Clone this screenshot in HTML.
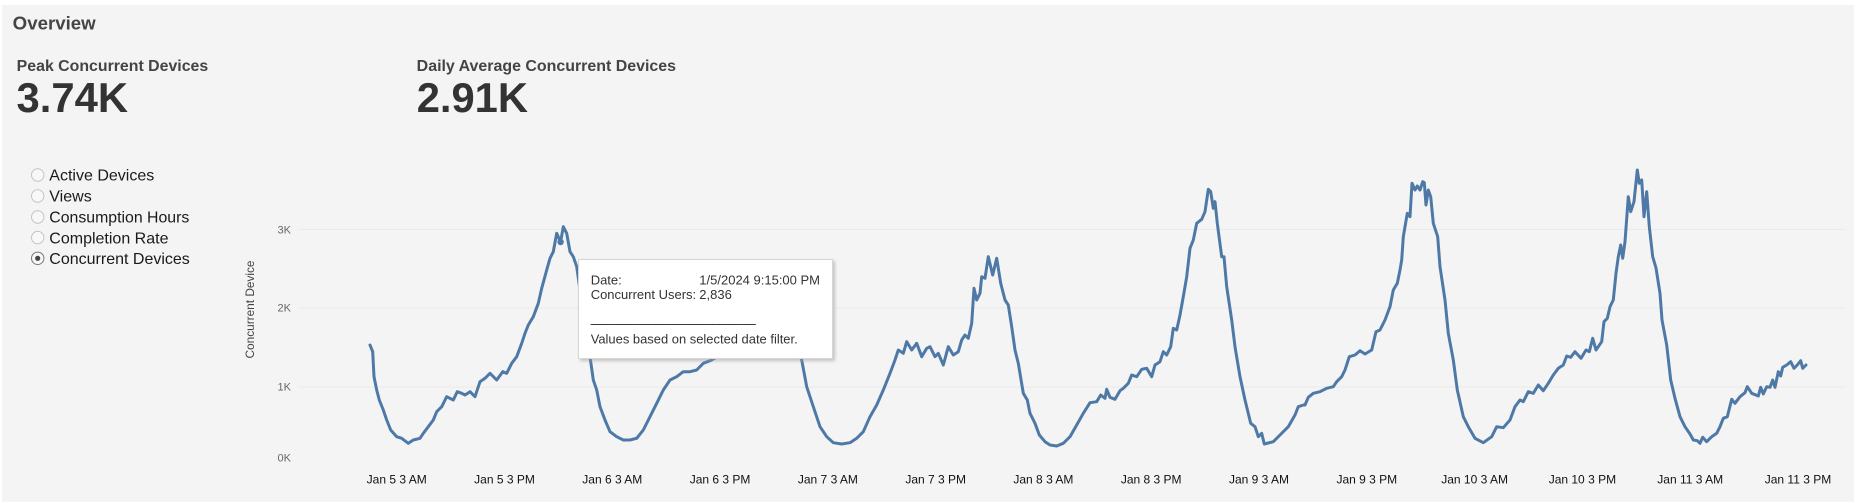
<!DOCTYPE html>
<html>
<head>
<meta charset="utf-8">
<style>
  html,body{margin:0;padding:0;background:#ffffff;}
  body{width:1854px;height:502px;overflow:hidden;}
  svg{display:block;}
  text{font-family:"Liberation Sans",Arial,sans-serif;}
</style>
</head>
<body>
<svg width="1854" height="502" viewBox="0 0 1854 502" xmlns="http://www.w3.org/2000/svg">
  <defs>
    <filter id="sh" x="-10%" y="-10%" width="130%" height="140%">
      <feGaussianBlur stdDeviation="1.5"/>
    </filter>
  </defs>
  <rect x="0" y="0" width="1854" height="502" fill="#ffffff"/>
  <rect x="2" y="5" width="1852" height="497" fill="#f4f4f4"/>

  <!-- Header -->
  <text x="12.7" y="29.3" font-size="18" font-weight="bold" fill="#444" textLength="83" lengthAdjust="spacingAndGlyphs">Overview</text>
  <text x="16.7" y="71" font-size="15.8" font-weight="bold" fill="#444" textLength="191.5" lengthAdjust="spacingAndGlyphs">Peak Concurrent Devices</text>
  <text x="16.5" y="112" font-size="42" font-weight="bold" fill="#333" textLength="111.5" lengthAdjust="spacingAndGlyphs">3.74K</text>
  <text x="416.7" y="71" font-size="15.8" font-weight="bold" fill="#444" textLength="259.3" lengthAdjust="spacingAndGlyphs">Daily Average Concurrent Devices</text>
  <text x="416.7" y="112" font-size="42" font-weight="bold" fill="#333" textLength="111.3" lengthAdjust="spacingAndGlyphs">2.91K</text>

  <!-- Radio list -->
  <g>
    <circle cx="37.7" cy="175" r="6.2" fill="#f8f8f8" stroke="#c4c4c4" stroke-width="1"/>
    <circle cx="37.7" cy="196" r="6.2" fill="#f8f8f8" stroke="#c4c4c4" stroke-width="1"/>
    <circle cx="37.7" cy="217" r="6.2" fill="#f8f8f8" stroke="#c4c4c4" stroke-width="1"/>
    <circle cx="37.7" cy="237.6" r="6.2" fill="#f8f8f8" stroke="#c4c4c4" stroke-width="1"/>
    <circle cx="37.7" cy="258.3" r="6.2" fill="#f8f8f8" stroke="#777" stroke-width="1"/>
    <circle cx="37.7" cy="258.3" r="2.6" fill="#444"/>
    <text x="49.3" y="180.7" font-size="16" fill="#1a1a1a">Active Devices</text>
    <text x="49.3" y="201.7" font-size="16" fill="#1a1a1a">Views</text>
    <text x="49.3" y="222.7" font-size="16" fill="#1a1a1a" textLength="140" lengthAdjust="spacingAndGlyphs">Consumption Hours</text>
    <text x="49.3" y="243.3" font-size="16" fill="#1a1a1a">Completion Rate</text>
    <text x="49.3" y="264" font-size="16" fill="#1a1a1a">Concurrent Devices</text>
  </g>

  <!-- Gridlines -->
  <g stroke="#eaeaea" stroke-width="1">
    <line x1="298" y1="229.5" x2="1846" y2="229.5"/>
    <line x1="298" y1="308" x2="1846" y2="308"/>
    <line x1="298" y1="387" x2="1846" y2="387"/>
  </g>

  <!-- Y axis -->
  <text transform="translate(254,309.5) rotate(-90)" text-anchor="middle" font-size="12" fill="#444" textLength="98" lengthAdjust="spacingAndGlyphs">Concurrent Device</text>
  <g font-size="11" fill="#666" text-anchor="end">
    <text x="291" y="233.3">3K</text>
    <text x="291" y="311.7">2K</text>
    <text x="291" y="390.7">1K</text>
    <text x="291" y="461.7">0K</text>
  </g>

  <!-- X axis labels -->
  <g font-size="12" fill="#111" text-anchor="middle">
    <text x="396.7" y="483.3">Jan 5 3 AM</text>
    <text x="504.5" y="483.3">Jan 5 3 PM</text>
    <text x="612.3" y="483.3">Jan 6 3 AM</text>
    <text x="720.1" y="483.3">Jan 6 3 PM</text>
    <text x="827.9" y="483.3">Jan 7 3 AM</text>
    <text x="935.7" y="483.3">Jan 7 3 PM</text>
    <text x="1043.4" y="483.3">Jan 8 3 AM</text>
    <text x="1151.2" y="483.3">Jan 8 3 PM</text>
    <text x="1259.0" y="483.3">Jan 9 3 AM</text>
    <text x="1366.8" y="483.3">Jan 9 3 PM</text>
    <text x="1474.6" y="483.3">Jan 10 3 AM</text>
    <text x="1582.4" y="483.3">Jan 10 3 PM</text>
    <text x="1690.2" y="483.3">Jan 11 3 AM</text>
    <text x="1798.0" y="483.3">Jan 11 3 PM</text>
  </g>

  <!-- Series -->
  <polyline fill="none" stroke="#4e79a7" stroke-width="3" stroke-linejoin="round" stroke-linecap="round" points="
370,345 372.7,351.7 374,376.7 376.7,390 379.3,400 383.3,410 386.7,420 390.7,430 396.7,436.7 401.7,438.3 408.3,443.3 413.3,440 420,438.3 423.3,433.3 428.3,426.7 433.3,420 436.7,411.7 441.7,406.7 446.7,396.7 453.3,400 457.3,391.7 461.7,393.3 465,395 470,391.7 475,396.7 480,381.7 485,378.3 490,373.3 496.7,380 502.7,371.7 506.7,373.3 511.7,363.3 516.7,356.7 521.7,343.3 525,333.3 528.3,325 533.3,316.7 538.3,303.3 541.7,288.3 546.7,270 550,258.3 553.3,251.7 556.7,233.3 560.6,242 563.3,226.7 566.7,233.3 570,251.7 573.3,256.7 576.7,266.7 580,290 585,320 590,356.7 593.3,380 596.7,390 600,406.7 605,420 610,431.7 616.7,436.7 623.3,440 630,440 636.7,438.3 643.3,430 650,416.7 656.7,403.3 663.3,390 670,380 676.7,376.7 683.3,371.7 690,371.7 696.7,370 703.3,363.3 711.7,360 720,355 730,348 740,335 750,315 760,295 768,280 775,272 780,275 786,290 792,315 797,340 801.7,360 806.7,386.7 813.3,406.7 820,426.7 826.7,436.7 833.3,442.7 841.7,444 850,442.7 856.7,438.3 863.3,431.7 870,416.7 876.7,405 883.3,390 890,373.3 895,360 898.3,350 903.3,353.3 906.7,341.7 911.7,350 916.7,343.3 921.7,356.7 926.7,348.3 930,346.7 935,356.7 938.3,353.3 943.3,365 948.3,346.7 953.3,355 958.3,351.7 961.7,340 965,335 968.3,338.3 971.7,323.3 974,288.3 976.7,300 980,293.3 981.7,276.7 985,278.3 988.3,256.7 992.7,275 996.7,258.3 1000.7,283.3 1005,300 1008.3,305 1011.7,326.7 1015,350 1018.3,363.3 1023.3,393.3 1027.3,400 1030,413.3 1035,423.3 1039.3,435 1045,441.7 1050,445 1056.7,446 1063.3,443.3 1070,436.7 1076.7,425 1083.3,413.3 1090,402.7 1096.7,401.7 1100.7,395 1105,398.3 1106.7,389.3 1110,397.3 1115,399.3 1120,390.7 1123.3,388.3 1128.3,383.3 1131.7,375 1136.7,376.7 1141.7,369.3 1146.7,368.3 1151.7,376.7 1155,365 1160,361.7 1163.3,351.7 1166.7,355 1170.7,346.7 1173.3,328.3 1176.7,330 1180,315 1183.3,296.7 1186.7,276.7 1190,248.3 1193.3,240 1196.7,223.3 1201.7,219.3 1205,211.7 1208.3,189.3 1210.7,191.7 1213.3,208.3 1215,201.7 1217.3,223.3 1221.7,256.7 1224,256.7 1226.7,286.7 1231.7,320 1235,346.7 1240,376.7 1245,400 1250.7,423.3 1255,426.7 1258.3,436.7 1261.7,433.3 1264.3,444 1273.3,441.7 1280,435 1288.3,426.7 1295,415 1298.3,406.7 1303.3,405 1305,405 1308.3,397.3 1313.3,393.3 1320,391.7 1326.7,388.3 1333.3,386.7 1336.7,381.7 1341.7,376.7 1345,370 1349.3,356.7 1355,355 1360,350.7 1365,354 1371.7,350 1376,331.7 1380,330 1385,320 1390,306.7 1393.3,290 1397.3,283.3 1400,270 1401.7,260 1403.3,236.7 1407.3,213.3 1410,216.7 1412,183.3 1415,190 1417.3,186 1420,190 1422.7,181.7 1424.3,182.7 1426,205 1428.3,190 1430.7,196.7 1433.3,223.3 1437.7,236.7 1440,266.7 1445,300 1448.3,333.3 1453.3,360 1457.3,390 1463.3,416.7 1468.3,426.7 1475,438.3 1483.3,442.7 1491.7,436.7 1496.7,426.7 1503.3,427.7 1510,420 1515,406.7 1520,400 1523.3,401.7 1528.3,391.7 1533.3,393.3 1538.3,385 1543.3,390.7 1548.3,383.3 1553.3,375 1558.3,368.3 1563.3,365 1566.7,356 1570.7,357.3 1575,351.7 1581,358.3 1586,350 1589.3,351.7 1592.7,338.3 1596,350 1601.7,341.7 1604,321.7 1607.3,318.3 1610,306.7 1613.3,300 1616,273.3 1618.3,256.7 1620.7,245 1622.7,258.3 1625,241.7 1628.3,196.7 1630.7,211.7 1634,201.7 1637.3,170 1639.3,183.3 1641.7,180 1644,216.7 1646.7,191.7 1649.3,226.7 1652.7,256.7 1656,268 1660,293.3 1662,320 1666.7,345 1670.7,380 1675,398.3 1680,416.7 1685,426.7 1690,434 1693.3,440 1697.3,440.7 1700,443.3 1702.7,437.3 1706.7,441.7 1711.7,436.7 1716.7,433.3 1720,426.7 1723.3,418.3 1727.3,416.7 1731.7,399.3 1735,403.3 1740,396.7 1745,392.7 1747.3,386.7 1751.7,393.3 1758.3,396 1760.7,387.3 1763.3,394 1766.7,386.7 1770,387.3 1772.7,380 1775,387.3 1778.3,371.7 1780.7,376 1782.7,367.3 1786.7,365 1790.7,361.7 1794,368.3 1797.3,365 1800.7,360.7 1802.7,368.3 1806,365"/>
  <circle cx="560.6" cy="242" r="3.2" fill="#4e79a7"/>

  <!-- Tooltip -->
  <rect x="580" y="261" width="255" height="100" fill="#9a9a9a" opacity="0.55" filter="url(#sh)"/>
  <rect x="578.5" y="259.5" width="254" height="99" fill="#ffffff" stroke="#d6d6d6" stroke-width="1"/>
  <g font-size="13" fill="#333">
    <text x="590.7" y="284.3">Date:</text>
    <text x="699.3" y="284.3">1/5/2024 9:15:00 PM</text>
    <text x="590.7" y="298.8">Concurrent Users:</text>
    <text x="699.3" y="298.8">2,836</text>
    <text x="590.7" y="322.5" fill="#111" textLength="165" lengthAdjust="spacingAndGlyphs">_______________________</text>
    <text x="590.7" y="343.3" textLength="207" lengthAdjust="spacingAndGlyphs">Values based on selected date filter.</text>
  </g>
</svg>
</body>
</html>
